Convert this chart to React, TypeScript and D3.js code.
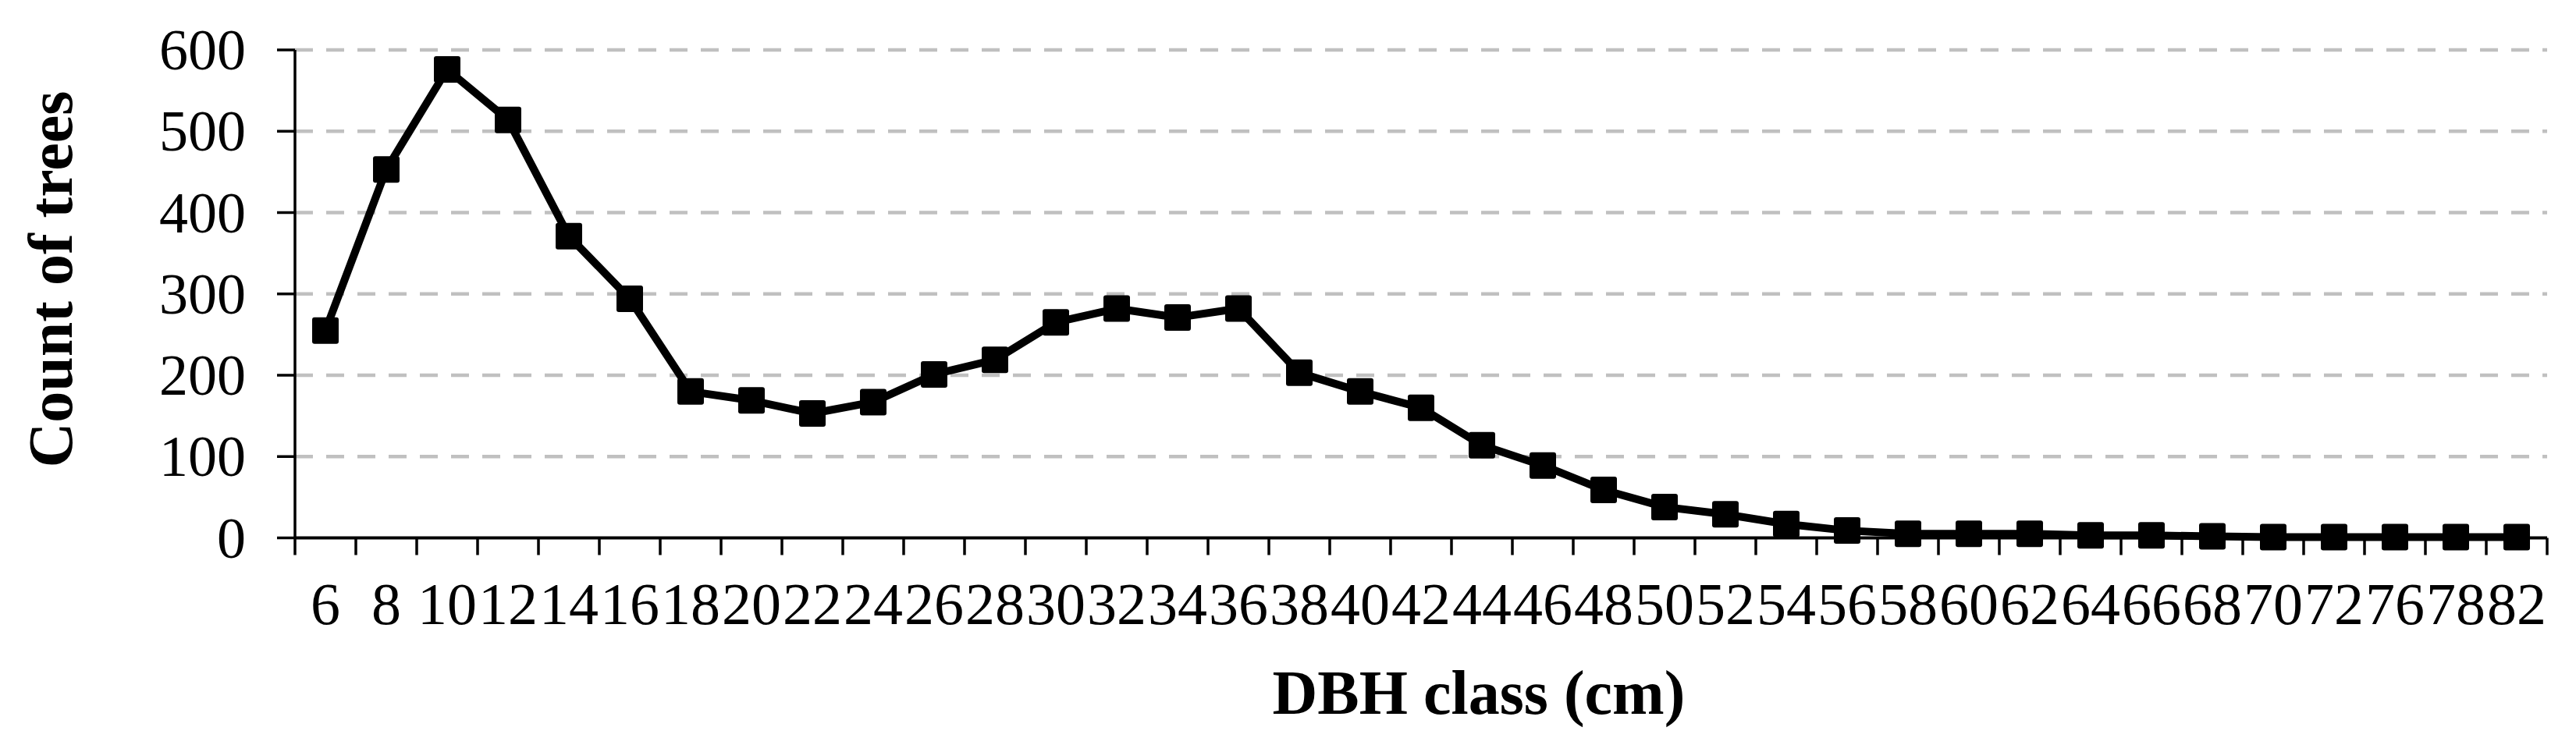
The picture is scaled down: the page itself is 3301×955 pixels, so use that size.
import React from 'react';
import * as d3 from 'd3';

const categories: string[] = [
  '6', '8', '10', '12', '14', '16', '18', '20', '22', '24', '26', '28', '30', '32', '34', '36',
  '38', '40', '42', '44', '46', '48', '50', '52', '54', '56', '58', '60', '62', '64', '66', '68',
  '70', '72', '76', '78', '82',
];
const counts: number[] = [
  255, 453, 576, 514, 371, 294, 180, 169, 153, 167, 201, 219, 265, 282, 271, 282,
  203, 180, 160, 114, 89, 59, 38, 29, 17, 9, 5, 5, 5, 3, 3, 2,
  1, 1, 1, 1, 1,
];
const yTicks: number[] = [0, 100, 200, 300, 400, 500, 600];
const xTitle = 'DBH class (cm)';
const yTitle = 'Count of trees';

const W = 3301;
const H = 955;
const FONT = '"Liberation Serif", "Times New Roman", serif';

export default function App() {
  const x = d3.scaleBand<string>().domain(categories).range([378, 3264]).paddingInner(0).paddingOuter(0);
  const y = d3.scaleLinear().domain([0, 600]).range([689.5, 64]);
  const [x0, x1] = x.range();
  const bw = x.bandwidth();
  const data = categories.map((c, i) => ({ c, v: counts[i] }));
  const line = d3
    .line<{ c: string; v: number }>()
    .x((d) => (x(d.c) as number) + bw / 2)
    .y((d) => y(d.v));
  const tickXs = categories.map((c) => x(c) as number).concat([x1]);
  const ms = 34;

  return (
    <svg
      width={W}
      height={H}
      viewBox={`0 0 ${W} ${H}`}
      style={{ position: 'absolute', left: 0, top: 0, display: 'block', background: '#fff' }}
    >
      <rect x={0} y={0} width={W} height={H} fill="#fff" />
      {/* gridlines */}
      {yTicks.filter((t) => t > 0).map((t) => (
        <line
          key={'g' + t}
          x1={x0}
          x2={x1}
          y1={y(t)}
          y2={y(t)}
          stroke="#c0c0c0"
          strokeWidth={4.5}
          strokeDasharray="23 17"
        />
      ))}
      {/* y axis */}
      <line x1={x0} x2={x0} y1={y(600)} y2={y(0)} stroke="#000" strokeWidth={3.5} />
      {yTicks.map((t) => (
        <line key={'yt' + t} x1={x0 - 23} x2={x0} y1={y(t)} y2={y(t)} stroke="#000" strokeWidth={3.5} />
      ))}
      {yTicks.map((t) => (
        <text
          key={'yl' + t}
          x={315}
          y={y(t)}
          dy="0.34em"
          textAnchor="end"
          fontFamily={FONT}
          fontSize={74}
          fill="#000"
        >
          {t}
        </text>
      ))}
      {/* x axis */}
      <line x1={x0} x2={x1} y1={y(0)} y2={y(0)} stroke="#000" strokeWidth={4} />
      {tickXs.map((tx, i) => (
        <line key={'xt' + i} x1={tx} x2={tx} y1={y(0)} y2={y(0) + 22} stroke="#000" strokeWidth={3.5} />
      ))}
      {categories.map((c) => (
        <text
          key={'xl' + c}
          x={(x(c) as number) + bw / 2}
          y={800}
          textAnchor="middle"
          fontFamily={FONT}
          fontSize={76}
          fill="#000"
        >
          {c}
        </text>
      ))}
      {/* series */}
      <path d={line(data) || ''} fill="none" stroke="#000" strokeWidth={10} strokeLinejoin="round" />
      {data.map((d) => (
        <rect
          key={'m' + d.c}
          x={(x(d.c) as number) + bw / 2 - ms / 2}
          y={y(d.v) - ms / 2}
          width={ms}
          height={ms}
          rx={3}
          fill="#000"
        />
      ))}
      {/* titles */}
      <text
        x={1895}
        y={915}
        textAnchor="middle"
        fontFamily={FONT}
        fontWeight="bold"
        fontSize={80}
        fill="#000"
      >
        {xTitle}
      </text>
      <text
        transform="translate(92,358) rotate(-90)"
        textAnchor="middle"
        fontFamily={FONT}
        fontWeight="bold"
        fontSize={80}
        fill="#000"
      >
        {yTitle}
      </text>
    </svg>
  );
}
